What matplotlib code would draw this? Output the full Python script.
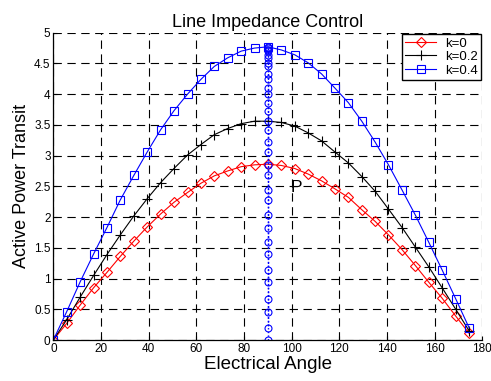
import matplotlib as mpl
mpl.use('Agg')
import matplotlib.pyplot as plt

plt.rcParams['font.family'] = ['Liberation Sans', 'DejaVu Sans']
plt.rcParams['lines.scale_dashes'] = False

# load angle (deg) and transmitted power for each k
angle = [0, 5.6, 11.3, 16.9, 22.5, 28.1, 33.8, 39.4, 45, 50.6, 56.3, 61.9,
         67.5, 73.1, 78.8, 84.4, 90, 95.6, 101.3, 106.9, 112.5, 118.1, 123.8,
         129.4, 135, 140.6, 146.3, 151.9, 157.5, 163.1, 168.8, 174.4]

p_k0 = [0.00, 0.27, 0.57, 0.85, 1.10, 1.36, 1.61, 1.84, 2.05, 2.24, 2.40, 2.55,
        2.67, 2.75, 2.82, 2.85, 2.86, 2.84, 2.79, 2.70, 2.59, 2.46, 2.32, 2.12,
        1.93, 1.71, 1.47, 1.21, 0.94, 0.68, 0.39, 0.11]

p_k02 = [0.00, 0.33, 0.70, 1.05, 1.39, 1.71, 2.02, 2.30, 2.56, 2.79, 3.01, 3.18,
         3.34, 3.44, 3.52, 3.56, 3.56, 3.54, 3.48, 3.37, 3.24, 3.06, 2.88, 2.66,
         2.42, 2.13, 1.83, 1.51, 1.19, 0.85, 0.50, 0.15]

p_k04 = [0.00, 0.46, 0.95, 1.40, 1.83, 2.28, 2.68, 3.06, 3.42, 3.73, 4.00, 4.24,
         4.45, 4.59, 4.70, 4.75, 4.77, 4.72, 4.64, 4.51, 4.33, 4.10, 3.86, 3.56,
         3.22, 2.85, 2.44, 2.03, 1.59, 1.14, 0.67, 0.20]

marker_angle = 90

fig = plt.figure(figsize=(4.91, 3.81), dpi=100)
ax = fig.add_axes([0.1086, 0.1076, 0.8739, 0.8066])

ax.plot(angle, p_k0, color='r', marker='D', markersize=5, mfc='none',
        mew=0.8, lw=0.8, label='k=0')
ax.plot(angle, p_k02, color='k', marker='+', markersize=7,
        mew=0.8, lw=0.8, label='k=0.2')
ax.plot(angle, p_k04, color='b', marker='s', markersize=6, mfc='none',
        mew=0.8, lw=0.8, label='k=0.4')
ax.plot([marker_angle] * len(p_k04), p_k04, color='b', ls=':', marker='o',
        markersize=5, mfc='none', mew=0.8, lw=1.0)

ax.text(102, 2.48, 'P', fontsize=12.5, ha='center', va='center')

ax.set_xlim(0, 180)
ax.set_ylim(0, 5)
ax.set_xticks(range(0, 181, 20))
ax.set_yticks([0, 0.5, 1, 1.5, 2, 2.5, 3, 3.5, 4, 4.5, 5])
ax.set_yticklabels(['0', '0.5', '1', '1.5', '2', '2.5', '3', '3.5', '4', '4.5', '5'])
ax.tick_params(direction='in', length=3, labelsize=8.5, pad=2)
ax.grid(True, color='k', linestyle=(0, (6, 4)), linewidth=0.8)
ax.spines['top'].set_visible(False)
ax.spines['right'].set_visible(False)
for s in ('left', 'bottom'):
    ax.spines[s].set_linewidth(0.9)

ax.set_title('Line Impedance Control', fontsize=13, pad=4)
ax.set_xlabel('Electrical Angle', fontsize=13.5, labelpad=1)
ax.set_ylabel('Active Power Transit', fontsize=13, labelpad=3)

leg = ax.legend(loc='upper right', fontsize=9.5, fancybox=False, framealpha=1,
                edgecolor='k', handlelength=2.3, handletextpad=0.7,
                borderaxespad=0.1, labelspacing=0.1, borderpad=0.25)
leg.get_frame().set_linewidth(1.0)

fig.savefig('out.png', dpi=100)
